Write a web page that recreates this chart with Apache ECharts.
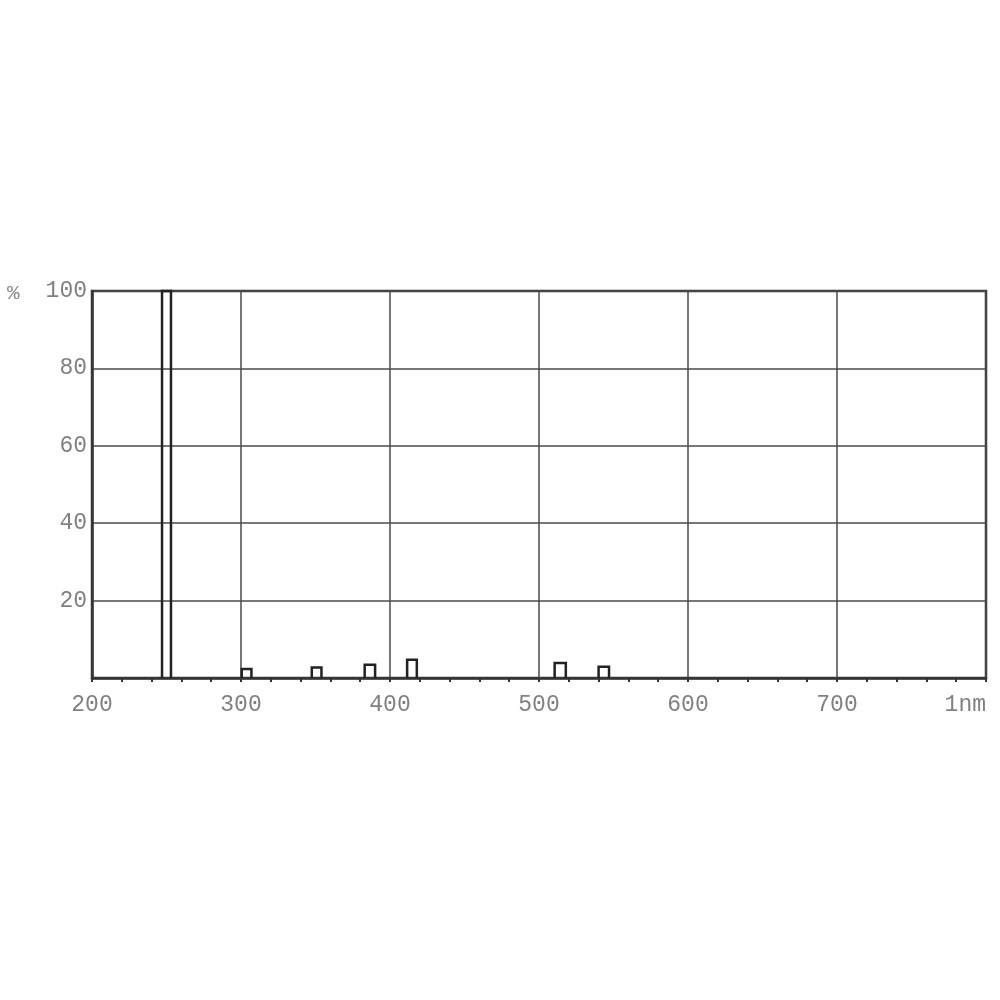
<!DOCTYPE html>
<html>
<head>
<meta charset="utf-8">
<script src="https://cdn.jsdelivr.net/npm/echarts@6/dist/echarts.min.js"></script>
<style>html,body{margin:0;padding:0;background:#fff;}#c{width:1000px;height:1000px;}</style>
</head>
<body>
<div id="c"></div>
<script>
// Spectral lines: start/end wavelength (nm) and relative intensity (%)
const lineStart = [247, 300.5, 347.5, 383, 411.5, 510.5, 540];
const lineEnd = [253, 307, 354, 390, 418, 518, 547];
const intensity = [100, 2.3, 2.7, 3.4, 4.7, 3.9, 2.9];
const xTickLabels = {200: '200', 300: '300', 400: '400', 500: '500', 600: '600', 700: '700', 800: '1nm'};
const yTickLabels = {20: '20', 40: '40', 60: '60', 80: '80', 100: '100'};

const data = lineStart.map((s, i) => [s, lineEnd[i], intensity[i]]);
const font = '"Liberation Mono", "DejaVu Sans Mono", monospace';

const chart = echarts.init(document.getElementById('c'));
chart.setOption({
  animation: false,
  backgroundColor: '#fff',
  grid: { left: 92, right: 14, top: 291, bottom: 322, show: true, borderColor: '#333', borderWidth: 2.5, backgroundColor: 'transparent' },
  graphic: [{ type: 'text', left: 7, top: 283, style: { text: '%', font: '21px ' + font, fill: '#888' } }],
  xAxis: {
    type: 'value', min: 200, max: 800, interval: 100,
    axisLine: { show: true, lineStyle: { color: '#333', width: 2.5 } },
    axisTick: { show: true, length: 4, lineStyle: { color: '#333', width: 2 } },
    minorTick: { show: true, splitNumber: 5, length: 4, lineStyle: { color: '#333', width: 2 } },
    splitLine: { show: true, lineStyle: { color: '#4a4a4a', width: 1.5 } },
    axisLabel: {
      margin: 15, color: '#808080', fontFamily: font, fontSize: 23,
      alignMaxLabel: 'right',
      formatter: v => xTickLabels[v] || ''
    }
  },
  yAxis: {
    type: 'value', min: 0, max: 100, interval: 20,
    axisLine: { show: true, lineStyle: { color: '#333', width: 2.5 } },
    axisTick: { show: false },
    splitLine: { show: true, lineStyle: { color: '#4a4a4a', width: 1.5 } },
    axisLabel: {
      margin: 5, color: '#808080', fontFamily: font, fontSize: 23,
      formatter: v => yTickLabels[v] || ''
    }
  },
  series: [{
    type: 'custom',
    data: data,
    encode: { x: [0, 1], y: 2 },
    renderItem: function (params, api) {
      const p0 = api.coord([api.value(0), 0]);
      const p1 = api.coord([api.value(1), api.value(2)]);
      return {
        type: 'polyline',
        shape: { points: [[p0[0], p0[1]], [p0[0], p1[1]], [p1[0], p1[1]], [p1[0], p0[1]]] },
        style: { stroke: '#222', lineWidth: 2.5, fill: null }
      };
    }
  }]
});
</script>
</body>
</html>
